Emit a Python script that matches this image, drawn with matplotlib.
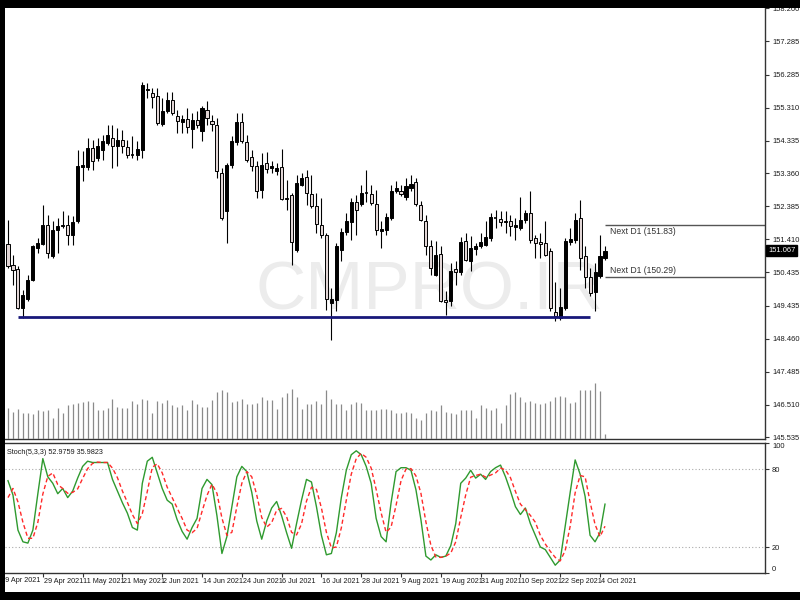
import numpy as np
import pandas as pd
import matplotlib
matplotlib.use("Agg")
import matplotlib.pyplot as plt
from matplotlib.patches import Rectangle
import matplotlib.transforms as mtransforms

# ---------------- data ----------------
first_bar = "2021-04-20"
opens = [151.27,150.65,150.53,149.37,149.64,150.20,151.15,151.27,151.83,150.91,
         151.69,151.80,151.83,151.54,151.95,153.55,153.55,154.11,153.82,154.06,
         154.26,154.41,154.17,154.35,154.14,153.92,153.91,154.06,155.83,155.74,
         155.66,154.83,155.21,155.54,155.06,154.89,154.97,154.68,154.94,154.62,
         155.24,154.91,154.80,153.37,152.25,153.61,154.29,154.89,154.29,153.85,
         153.58,152.87,153.67,153.52,153.43,153.55,152.63,152.72,151.09,153.02,
         153.26,152.75,152.40,151.83,151.54,149.52,149.61,151.09,151.63,151.92,
         152.51,152.46,152.78,152.75,152.46,151.66,151.69,152.04,152.84,152.84,
         152.66,152.93,153.11,152.43,151.95,151.21,150.35,150.97,149.61,149.58,
         150.53,150.44,151.36,150.77,151.12,151.21,151.24,151.45,152.05,152.01,
         151.92,151.95,151.77,151.74,151.98,152.19,151.45,151.33,151.30,151.06,
         149.26,149.08,149.37,151.33,151.39,152.04,150.91,150.29,149.85,150.32,
         150.86]
highs = [151.98,150.94,150.62,149.91,150.35,151.24,151.45,152.43,152.13,151.95,
         152.04,152.25,152.13,152.10,154.06,154.03,154.41,154.35,154.41,154.50,
         154.80,154.80,154.71,154.65,154.35,154.47,154.32,156.07,156.04,155.89,
         155.89,155.60,155.77,155.77,155.24,155.09,155.30,155.15,155.21,155.36,
         155.51,155.09,155.00,153.52,153.67,154.47,155.15,155.15,154.50,154.06,
         153.73,153.97,154.00,153.73,153.67,154.08,153.17,152.78,153.31,153.37,
         153.46,153.31,152.78,152.63,151.60,149.97,151.30,151.74,152.19,152.63,
         152.72,153.02,153.46,153.02,152.87,151.95,152.19,153.02,153.14,153.02,
         153.23,153.31,153.23,152.54,152.13,151.39,151.36,151.21,149.88,150.71,
         150.77,151.48,151.60,151.51,151.30,151.60,151.95,152.19,152.28,152.25,
         152.25,152.13,152.04,152.66,152.28,152.84,151.54,151.60,151.95,151.15,
         150.14,149.97,151.45,151.74,152.19,152.57,151.21,150.56,150.71,151.54,
         151.21]
lows = [150.56,150.06,149.35,149.08,149.58,150.17,151.00,151.24,150.86,150.86,
        151.00,151.74,151.24,151.24,151.89,153.14,153.46,153.46,153.73,153.76,
        154.20,153.52,153.58,153.97,153.82,153.82,153.76,153.82,155.60,155.30,
        154.80,154.77,155.15,155.09,154.56,154.56,154.56,154.11,154.71,154.32,
        154.80,154.62,153.23,151.98,151.30,153.52,154.20,154.26,153.70,153.43,
        152.63,152.63,153.37,153.37,153.31,152.57,152.28,150.65,151.03,152.99,
        152.43,152.34,151.60,151.45,149.31,148.43,149.29,150.77,151.54,151.39,
        151.54,152.40,152.51,152.43,151.54,151.15,151.54,151.98,152.78,152.69,
        152.57,152.84,152.40,151.95,150.94,150.35,150.32,149.55,149.17,149.43,
        150.06,150.35,150.77,150.47,150.94,151.15,151.21,151.36,151.74,151.80,
        151.60,151.51,151.39,151.69,151.89,151.30,150.86,150.86,150.91,149.29,
        148.99,149.02,149.31,151.24,151.30,150.50,149.97,149.73,149.29,150.26,
        150.80]
closes = [150.62,150.50,149.37,149.76,150.20,151.21,151.30,151.83,151.00,151.69,
          151.80,151.83,151.54,151.92,153.58,153.61,154.11,153.73,154.17,154.32,
          154.50,154.17,154.35,154.17,153.91,153.90,154.08,155.98,155.86,155.63,
          154.86,155.21,155.54,155.15,154.91,154.97,154.74,154.94,154.80,155.30,
          155.00,154.83,153.43,152.04,153.61,154.32,154.89,154.32,153.76,153.58,
          152.84,153.61,153.49,153.58,153.52,152.60,152.60,151.33,153.08,153.23,
          152.78,152.40,151.86,151.54,149.64,149.64,151.21,151.63,151.95,152.51,
          152.28,152.78,152.77,152.49,151.69,151.71,152.07,152.84,152.93,152.75,
          152.99,153.05,152.46,151.98,151.21,150.56,150.94,149.58,149.55,150.47,
          150.44,151.33,150.80,151.15,151.21,151.33,151.48,152.07,152.04,151.92,
          151.95,151.80,151.83,151.98,152.19,151.39,151.30,151.27,150.94,149.37,
          149.14,149.40,151.36,151.42,151.98,150.86,150.29,149.82,150.44,150.91,
          151.067]
# tick volume (relative bar heights)
volumes = [31,27,30,26,26,25,29,28,29,21,31,26,34,35,36,37,38,37,29,29,
           31,40,32,31,31,38,35,40,39,26,38,36,39,34,32,34,29,39,35,32,
           32,39,47,49,47,37,38,40,35,35,36,42,39,39,30,42,46,50,42,30,
           35,35,38,35,49,40,35,35,29,35,37,36,29,29,29,30,30,29,26,26,
           27,26,21,19,26,29,28,34,27,26,25,29,29,29,21,34,31,29,31,16,
           34,45,47,42,37,38,36,35,36,38,42,43,42,36,37,49,49,49,56,48,5]
stoch_k = [71,60,33,24,23,33,61,88,74,69,61,65,58,63,73,82,86,85,85,85,
           85,72,63,54,46,35,33,69,86,89,77,65,56,53,41,32,26,35,42,65,
           72,68,44,15,28,51,74,82,78,62,40,26,40,50,55,44,31,19,38,56,
           72,70,51,29,14,15,31,58,79,91,94,91,82,69,42,28,24,54,78,81,
           81,79,64,41,13,10,14,12,13,21,38,69,73,79,73,76,72,78,81,83,
           74,63,51,45,50,38,29,20,18,12,6,10,36,62,87,76,59,29,24,31,52.9759]
stoch_d = [58,65,54.7,39,26.7,26.7,39,60.7,74.3,77,68,65,61.3,62,64.7,72.7,80.3,84.3,85.3,85,
           85,80.7,73.3,63,54.3,45,38,45.7,62.7,81.3,84,77,66,58,50,42,33,31,34.3,47.3,
           59.7,68.3,61.3,42.3,29,31.3,51,69,78,74,60,42.7,35.3,38.7,48.3,49.7,43.3,31.3,29.3,37.7,
           55.3,66,64.3,50,31.3,19.3,20,34.7,56,76,88,92,89,80.7,64.3,46.3,31.3,35.3,52,71,
           80,80.3,74.7,61.3,39.3,21.3,12.3,12,13,15.3,24,42.7,60,73.7,75,76,73.7,75.3,77,80.7,
           79.3,73.3,62.7,53,48.7,44.3,39,29,22.3,16.7,12,9.3,17.3,36,61.7,75,74,54.7,37.3,28,35.9823]
support_level = 149.11
support_from, support_to = "2021-04-22", "2021-09-30"
next_d1 = [151.83, 150.29]
current_price = 151.067
price_ticks = [158.260, 157.285, 156.285, 155.310, 154.335, 153.360, 152.385,
               151.410, 150.435, 149.435, 148.460, 147.485, 146.510, 145.535]
stoch_levels = [100, 80, 20, 0]
date_ticks = ["2021-04-19", "2021-04-29", "2021-05-11", "2021-05-21", "2021-06-02",
              "2021-06-14", "2021-06-24", "2021-07-06", "2021-07-16", "2021-07-28",
              "2021-08-09", "2021-08-19", "2021-08-31", "2021-09-10", "2021-09-22",
              "2021-10-04"]

# ---------------- layout ----------------
W, H = 800, 600
FONT = ['Liberation Sans', 'DejaVu Sans']
TXT = '#1a1a1a'
fig = plt.figure(figsize=(8, 6), dpi=100, facecolor='black')
fig.patches.append(Rectangle((5 / W, 8 / H), 795 / W, 584 / H, transform=fig.transFigure,
                             facecolor='white', edgecolor='none', zorder=-10))


def fx(px):
    return px / W


def fy(py):
    return 1 - py / H


x0_px, dx_px = 8.0, 4.975
xlim = ((5 - x0_px) / dx_px, (765 - x0_px) / dx_px)

ax = fig.add_axes([fx(5), fy(439), fx(765) - fx(5), fy(8) - fy(439)])
sax = fig.add_axes([fx(5), fy(573), fx(765) - fx(5), fy(443) - fy(573)])
vax = fig.add_axes([fx(5), fy(439), fx(765) - fx(5), fy(8) - fy(439)])
for a in (ax, sax, vax):
    a.set_facecolor('none')
    a.set_xlim(*xlim)

n = len(opens)
xs = np.arange(n)

# watermark
fig.text(fx(429), fy(292), "CMPRO.IR", fontsize=50, color='#ececec', ha='center', va='center',
         family=FONT, zorder=-5)

# candles
ax.vlines(xs, lows, highs, color='black', lw=0.8, zorder=2)
bw = 0.62
for i in range(n):
    o, c = opens[i], closes[i]
    bull = c >= o
    lo, hi = min(o, c), max(o, c)
    if hi - lo < 0.02:
        ax.hlines((o + c) / 2, i - bw / 2, i + bw / 2, color='black', lw=1.2, zorder=3)
    else:
        ax.add_patch(Rectangle((i - bw / 2, lo), bw, hi - lo,
                               facecolor='black' if bull else '#e2d6d6',
                               edgecolor='black', lw=0.7, zorder=3))

ax.set_ylim(145.49, 158.263)

# support line
s0 = np.busday_count(first_bar, support_from)
s1 = np.busday_count(first_bar, support_to)
ax.hlines(support_level, s0, s1, color='#18187a', lw=2.0, zorder=4)

# Next D1 lines
ax.hlines(next_d1, n - 1, xlim[1], color='#555555', lw=1.0, zorder=2)
ax.annotate(f"Next D1 ({next_d1[0]:.2f})", (n, next_d1[0]), xytext=(0, -1.5),
            textcoords='offset points', va='top', ha='left', fontsize=6.2,
            color='#333333', family=FONT)
ax.annotate(f"Next D1 ({next_d1[1]:.2f})", (n, next_d1[1]), xytext=(0, 1.5),
            textcoords='offset points', va='bottom', ha='left', fontsize=6.2,
            color='#333333', family=FONT)

# price axis
for s in ('top', 'left'):
    ax.spines[s].set_visible(False)
for s in ('bottom', 'right'):
    ax.spines[s].set_color('#333333')
    ax.spines[s].set_linewidth(1.0)
ax.yaxis.tick_right()
ax.set_yticks(price_ticks)
ax.set_yticklabels([f"{v:.3f}" for v in price_ticks], family=FONT)
ax.tick_params(axis='y', direction='out', length=3, width=0.8, pad=2, labelsize=5.4,
               colors='#333333', labelcolor=TXT)
ax.set_xticks([])

trans = mtransforms.blended_transform_factory(ax.transAxes, ax.transData)
ax.text(1.004, current_price, f"{current_price:.3f}", transform=trans, fontsize=5.4,
        color='white', va='center', ha='left', family=FONT,
        bbox=dict(boxstyle='square,pad=0.25', facecolor='black', edgecolor='black'))

# volumes
vax.vlines(xs, 0, volumes, color='#8a8a8a', lw=0.9)
vax.set_ylim(0.5, 431)
vax.axis('off')

# stochastic
sax.set_ylim(0, 100)
sax.axhline(80, color='#aaaaaa', lw=0.8, ls=(0, (1, 2)))
sax.axhline(20, color='#aaaaaa', lw=0.8, ls=(0, (1, 2)))
sax.plot(xs, stoch_k, color='#2f9a2f', lw=1.0)
sax.plot(xs, stoch_d, color='#ff2a2a', lw=1.0, ls=(0, (3, 2)))
sax.spines['left'].set_visible(False)
for s in ('top', 'bottom', 'right'):
    sax.spines[s].set_color('#333333')
    sax.spines[s].set_linewidth(1.0)
sax.yaxis.tick_right()
sax.set_yticks(stoch_levels)
sax.set_yticklabels([str(v) for v in stoch_levels], family=FONT)
sax.tick_params(axis='y', direction='out', length=3, width=0.8, pad=2, labelsize=5.4,
                colors='#333333', labelcolor=TXT)
labs = sax.get_yticklabels()
labs[0].set_va('top')
labs[-1].set_va('bottom')
sax.text(0.002, 0.93, f"Stoch(5,3,3) {stoch_k[-1]:.4f} {stoch_d[-1]:.4f}",
         transform=sax.transAxes, fontsize=5.2, color=TXT, va='center', ha='left', family=FONT)

tick_pos = np.busday_count(first_bar, date_ticks)
tick_lab = [f"{pd.Timestamp(d).day} {pd.Timestamp(d):%b %Y}" for d in date_ticks]
vis = [p for p in tick_pos if p >= xlim[0]]
sax.set_xticks(vis)
sax.set_xticklabels([''] * len(vis))
sax.tick_params(axis='x', direction='out', length=3, width=0.8, colors='#333333')
tr2 = mtransforms.blended_transform_factory(sax.transData, sax.transAxes)
for p, lab in zip(tick_pos, tick_lab):
    if p < xlim[0]:
        # first label is partly hidden behind the left border, as in the source
        fig.text(fx(1.0), fy(576.5), lab, fontsize=5.2, color=TXT, ha='left', va='top',
                 family=FONT, zorder=-8)
    else:
        sax.text(p + 0.15, -0.035, lab, transform=tr2, fontsize=5.2, color=TXT, ha='left',
                 va='top', family=FONT, clip_on=False)

# black frame on top (left and top borders)
fig.patches.append(Rectangle((0, 0), 5 / W, 1, transform=fig.transFigure,
                             facecolor='black', edgecolor='none', zorder=10))
fig.patches.append(Rectangle((0, 1 - 8 / H), 1, 8 / H, transform=fig.transFigure,
                             facecolor='black', edgecolor='none', zorder=10))

fig.savefig("out.png", dpi=100, facecolor='black')
